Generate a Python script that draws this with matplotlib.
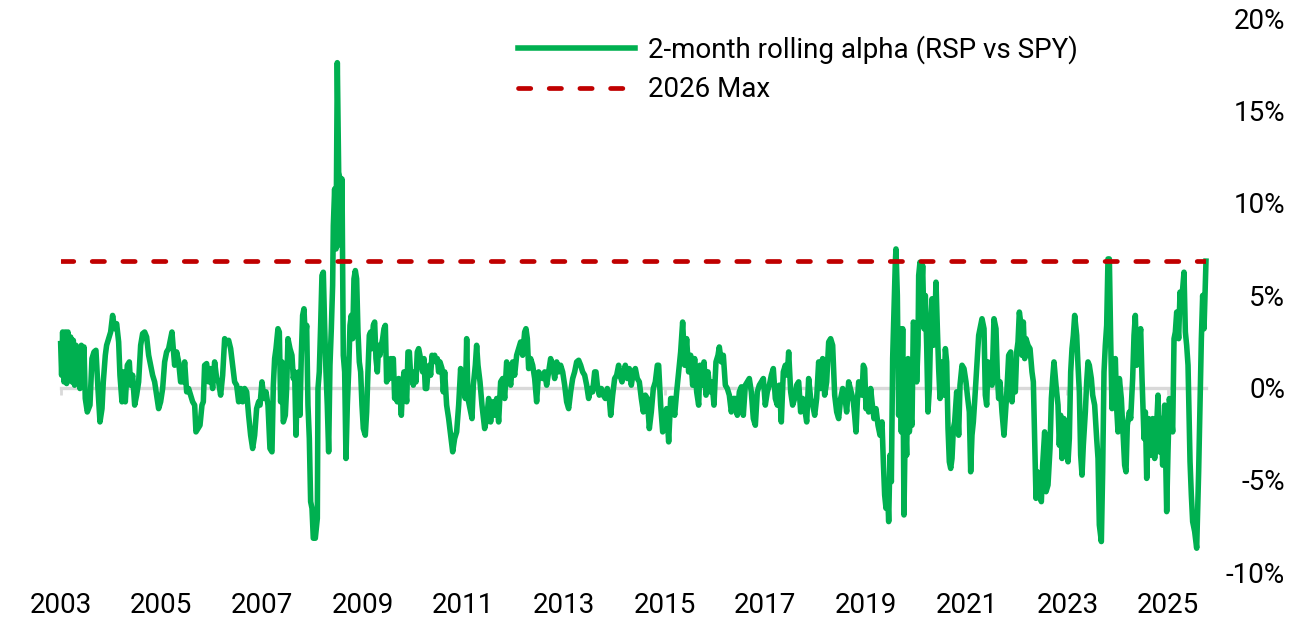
import matplotlib.pyplot as plt
from matplotlib.ticker import FuncFormatter

plt.rcParams['font.family'] = ['Roboto', 'DejaVu Sans']
plt.rcParams['axes.unicode_minus'] = False

# dates as decimal years (axis positions), alpha in %
dates = [
    2003.000, 2003.019, 2003.039, 2003.066, 2003.092, 2003.119, 2003.145, 2003.172, 2003.198, 2003.225,
    2003.251, 2003.277, 2003.304, 2003.330, 2003.357, 2003.383, 2003.410, 2003.436, 2003.463, 2003.489,
    2003.529, 2003.582, 2003.622, 2003.662, 2003.701, 2003.741, 2003.781, 2003.821, 2003.847, 2003.887,
    2003.913, 2003.953, 2003.993, 2004.032, 2004.072, 2004.112, 2004.152, 2004.178, 2004.218, 2004.244,
    2004.284, 2004.324, 2004.364, 2004.390, 2004.430, 2004.470, 2004.509, 2004.549, 2004.589, 2004.628,
    2004.668, 2004.708, 2004.748, 2004.787, 2004.827, 2004.867, 2004.907, 2004.946, 2004.986, 2005.026,
    2005.066, 2005.105, 2005.145, 2005.185, 2005.211, 2005.238, 2005.264, 2005.304, 2005.344, 2005.383,
    2005.423, 2005.463, 2005.503, 2005.542, 2005.582, 2005.622, 2005.662, 2005.688, 2005.728, 2005.768,
    2005.807, 2005.834, 2005.860, 2005.900, 2005.940, 2005.979, 2006.019, 2006.059, 2006.099, 2006.138,
    2006.178, 2006.218, 2006.258, 2006.297, 2006.337, 2006.377, 2006.417, 2006.456, 2006.496, 2006.536,
    2006.576, 2006.615, 2006.655, 2006.695, 2006.734, 2006.774, 2006.814, 2006.854, 2006.893, 2006.933,
    2006.960, 2006.999, 2007.039, 2007.079, 2007.119, 2007.158, 2007.198, 2007.225, 2007.251, 2007.278,
    2007.317, 2007.344, 2007.370, 2007.397, 2007.423, 2007.463, 2007.489, 2007.516, 2007.556, 2007.595,
    2007.622, 2007.648, 2007.675, 2007.701, 2007.728, 2007.754, 2007.781, 2007.807, 2007.834, 2007.860,
    2007.887, 2007.913, 2007.940, 2007.966, 2007.993, 2008.019, 2008.059, 2008.099, 2008.112, 2008.138,
    2008.165, 2008.191, 2008.218, 2008.244, 2008.271, 2008.297, 2008.324, 2008.350, 2008.377, 2008.403,
    2008.417, 2008.443, 2008.470, 2008.496, 2008.523, 2008.549, 2008.576, 2008.589, 2008.615, 2008.642,
    2008.668, 2008.695, 2008.721, 2008.748, 2008.774, 2008.801, 2008.827, 2008.854, 2008.880, 2008.907,
    2008.933, 2008.960, 2008.986, 2009.013, 2009.052, 2009.079, 2009.105, 2009.132, 2009.158, 2009.185,
    2009.211, 2009.238, 2009.264, 2009.291, 2009.317, 2009.344, 2009.370, 2009.397, 2009.423, 2009.450,
    2009.476, 2009.503, 2009.529, 2009.556, 2009.582, 2009.609, 2009.635, 2009.662, 2009.688, 2009.715,
    2009.741, 2009.768, 2009.794, 2009.821, 2009.847, 2009.874, 2009.900, 2009.927, 2009.953, 2009.980,
    2010.006, 2010.032, 2010.059, 2010.085, 2010.112, 2010.138, 2010.165, 2010.191, 2010.218, 2010.244,
    2010.271, 2010.297, 2010.324, 2010.350, 2010.377, 2010.403, 2010.430, 2010.456, 2010.483, 2010.509,
    2010.536,
    2010.576, 2010.602, 2010.629, 2010.668, 2010.708, 2010.748, 2010.788, 2010.827, 2010.867, 2010.907,
    2010.946, 2010.973, 2010.999, 2011.039, 2011.066, 2011.092, 2011.132, 2011.172, 2011.198, 2011.238,
    2011.264, 2011.291, 2011.331, 2011.370, 2011.423, 2011.463, 2011.503, 2011.542, 2011.582, 2011.622,
    2011.662, 2011.701, 2011.741, 2011.781, 2011.821, 2011.860, 2011.900, 2011.940, 2011.980, 2012.019,
    2012.059, 2012.099, 2012.138, 2012.178, 2012.218, 2012.244, 2012.271, 2012.297, 2012.337, 2012.377,
    2012.417, 2012.456, 2012.496, 2012.536, 2012.576, 2012.615, 2012.655, 2012.695, 2012.734, 2012.774,
    2012.814, 2012.854, 2012.893, 2012.933, 2012.973, 2013.013, 2013.052, 2013.092, 2013.132, 2013.172,
    2013.211, 2013.251, 2013.291, 2013.331, 2013.370, 2013.410, 2013.450, 2013.489, 2013.529, 2013.569,
    2013.609, 2013.635, 2013.662, 2013.701, 2013.741, 2013.781, 2013.821, 2013.860, 2013.900, 2013.927,
    2013.966, 2014.006, 2014.046, 2014.085, 2014.112, 2014.152, 2014.191, 2014.218, 2014.258, 2014.297,
    2014.337, 2014.377, 2014.417, 2014.456, 2014.496, 2014.536, 2014.576, 2014.615, 2014.655, 2014.695,
    2014.734, 2014.774, 2014.814, 2014.854, 2014.880, 2014.920, 2014.960, 2014.999, 2015.039, 2015.079,
    2015.119, 2015.158, 2015.198, 2015.238, 2015.277, 2015.317, 2015.357, 2015.397, 2015.436, 2015.476,
    2015.516, 2015.556, 2015.595, 2015.635, 2015.675, 2015.701, 2015.741, 2015.781, 2015.821, 2015.860,
    2015.900, 2015.940, 2015.979, 2016.019, 2016.059, 2016.085, 2016.125, 2016.165, 2016.205, 2016.244,
    2016.284, 2016.324, 2016.364, 2016.403, 2016.443, 2016.483, 2016.523, 2016.562, 2016.602, 2016.642,
    2016.681, 2016.721, 2016.761, 2016.801, 2016.840, 2016.880, 2016.920, 2016.960, 2016.999, 2017.039,
    2017.079, 2017.119, 2017.158, 2017.198, 2017.238, 2017.277, 2017.317, 2017.357, 2017.397, 2017.436,
    2017.463, 2017.503, 2017.542, 2017.582, 2017.622, 2017.662, 2017.701, 2017.741, 2017.781, 2017.821,
    2017.860, 2017.900, 2017.940, 2017.980, 2018.019, 2018.059, 2018.099, 2018.138, 2018.178, 2018.218,
    2018.258, 2018.297, 2018.337, 2018.377, 2018.417, 2018.456, 2018.496, 2018.536, 2018.576, 2018.615,
    2018.655,
    2018.721, 2018.748, 2018.774, 2018.801, 2018.827, 2018.854, 2018.893, 2018.920, 2018.946, 2018.973,
    2018.999, 2019.026, 2019.052, 2019.092, 2019.119, 2019.158, 2019.198, 2019.238, 2019.278, 2019.317,
    2019.344, 2019.370, 2019.397, 2019.423, 2019.450, 2019.476, 2019.503, 2019.529, 2019.556, 2019.582,
    2019.595, 2019.622, 2019.648, 2019.675, 2019.701, 2019.728, 2019.754, 2019.781, 2019.807, 2019.834,
    2019.860, 2019.887, 2019.913, 2019.940, 2019.980, 2020.006, 2020.033, 2020.046, 2020.072, 2020.099,
    2020.125, 2020.152, 2020.178, 2020.205, 2020.231, 2020.258, 2020.284, 2020.311, 2020.337, 2020.364,
    2020.390, 2020.417, 2020.443, 2020.470, 2020.496, 2020.523, 2020.549, 2020.576, 2020.602, 2020.629,
    2020.655, 2020.682, 2020.708, 2020.735, 2020.761, 2020.801, 2020.840, 2020.867, 2020.907, 2020.946,
    2020.986, 2021.013, 2021.052, 2021.079, 2021.105, 2021.132, 2021.158, 2021.198, 2021.238, 2021.277,
    2021.304, 2021.344, 2021.370, 2021.397, 2021.423, 2021.463, 2021.503, 2021.542, 2021.582, 2021.609,
    2021.635,
    2021.662, 2021.701, 2021.741, 2021.768, 2021.794, 2021.834, 2021.874, 2021.900, 2021.927, 2021.966,
    2021.993, 2022.019, 2022.046, 2022.072, 2022.099, 2022.125, 2022.152, 2022.178, 2022.218, 2022.258,
    2022.297, 2022.324, 2022.350, 2022.377, 2022.403, 2022.443, 2022.483, 2022.509, 2022.549, 2022.576,
    2022.615, 2022.655, 2022.682, 2022.708, 2022.734, 2022.774, 2022.814, 2022.840, 2022.867, 2022.893,
    2022.933, 2022.973, 2023.013, 2023.039, 2023.066, 2023.092, 2023.119, 2023.145, 2023.185, 2023.211,
    2023.238, 2023.264, 2023.291, 2023.317, 2023.357, 2023.384, 2023.410, 2023.436, 2023.476, 2023.503,
    2023.542, 2023.582, 2023.609, 2023.635, 2023.675, 2023.701, 2023.728, 2023.754, 2023.781, 2023.807,
    2023.834, 2023.860, 2023.887, 2023.913, 2023.953, 2023.980, 2024.006, 2024.033, 2024.072, 2024.099,
    2024.138, 2024.165, 2024.191, 2024.231, 2024.258, 2024.297, 2024.324, 2024.350, 2024.377, 2024.417,
    2024.456, 2024.483, 2024.523, 2024.549, 2024.576, 2024.615, 2024.655, 2024.695, 2024.734, 2024.774,
    2024.801, 2024.827, 2024.867, 2024.893, 2024.933, 2024.973, 2024.999, 2025.026, 2025.052, 2025.092,
    2025.119, 2025.145, 2025.172, 2025.211, 2025.238, 2025.264, 2025.291, 2025.317, 2025.344, 2025.370,
    2025.397, 2025.437, 2025.463, 2025.489, 2025.529, 2025.569, 2025.608, 2025.635, 2025.662, 2025.688,
    2025.715, 2025.754,
]

alpha = [
    2.38, 0.67, 3.01, 0.31, 3.01, 0.22, 3.01, 0.49, 2.74, 0.31,
    2.56, 0.13, 2.29, 0.40, 2.11, -0.05, 2.29, 0.13, 2.20, -0.59,
    -1.32, -0.95, 1.57, 1.93, 2.02, -0.05, -1.86, -1.14, 0.31, 1.75,
    2.29, 2.65, 3.01, 3.91, 3.19, 3.46, 2.47, 0.67, -0.77, 0.85,
    -0.77, 1.21, 1.39, 0.13, 0.67, -0.95, -0.41, 0.31, 2.29, 2.92,
    3.01, 2.74, 1.75, 1.21, 0.67, 0.31, -0.41, -1.14, -0.77, -0.05,
    1.39, 1.93, 2.11, 2.65, 3.01, 2.11, 1.21, 1.93, 1.39, 0.31,
    0.31, 1.39, -0.23, -0.05, -0.41, -0.77, -0.95, -2.40, -2.22, -2.04,
    -0.95, -0.77, 1.21, 1.30, 0.31, 1.03, -0.05, 1.39, 0.49, 0.31,
    -0.41, 0.67, 2.65, 2.47, 2.56, 2.11, 1.21, 0.31, 0.13, -0.77,
    -0.05, -0.77, -0.05, -0.23, -1.50, -2.58, -3.30, -2.58, -1.14, -0.77,
    -0.95, 0.31, -0.59, -0.23, -0.95, -3.30, -3.48, 0.13, 1.57, 2.11,
    3.19, 3.01, -0.77, 1.39, -1.86, -1.50, -0.05, 2.65, 2.11, 1.75,
    0.49, 0.85, -2.58, 0.13, 0.85, -1.50, 1.75, 3.91, 4.27, 2.65,
    3.37, -0.95, -2.76, -6.18, -6.54, -8.16, -8.16, -7.08, -0.05, 0.85,
    3.37, 6.07, 6.25, 3.37, 0.85, -0.95, -3.48, 1.21, 3.19, 5.53,
    8.77, 10.76, 7.51, 17.60, 11.66, 11.30, 7.69, 11.30, 1.75, 0.85,
    -3.84, -0.95, 0.85, 3.37, 3.91, 2.65, 5.89, 6.34, 5.89, 3.01,
    1.39, 0.85, -0.95, -2.22, -2.58, -1.32, 0.85, 2.83, 3.01, 2.11,
    3.37, 3.55, 1.57, 0.85, 2.29, 1.75, 2.29, 2.65, 3.19, 3.37,
    0.31, 1.39, 0.49, 1.57, 1.21, 1.57, -0.59, 0.13, -0.77, 0.49,
    -0.23, -1.50, 0.13, 0.85, -0.05, -0.77, 1.93, 1.93, 0.67, 0.67,
    0.13, 0.85, 0.31, 1.93, 2.11, 1.75, 1.21, 0.85, 1.57, -0.05,
    -0.05, 0.85, 1.21, 0.67, 1.75, 1.57, 1.75, 1.39, 1.57, 0.85,
    1.39,
    1.03, -0.23, 0.85, -0.95, -1.68, -2.58, -3.48, -2.76, -2.40, -0.95,
    1.03, -0.23, 0.67, -0.59, 2.65, -0.59, -1.14, -1.68, 0.13, 1.21,
    2.29, 1.21, 0.31, -0.95, -2.22, -1.68, -0.59, -1.86, -0.77, -1.50,
    -0.59, -1.86, 0.31, 0.49, -0.59, 1.39, 0.85, 0.13, 1.39, 0.67,
    1.75, 2.11, 2.47, 1.75, 3.01, 3.19, 2.65, 1.03, 1.57, 1.21,
    0.49, -0.77, 0.85, 0.67, 0.49, 0.85, 0.13, 0.85, 1.57, 1.21,
    0.49, 1.39, 0.85, 1.21, 0.85, 0.13, -0.77, -1.14, -0.23, 0.49,
    0.85, 1.39, 1.48, 1.21, 0.85, 0.67, 0.13, -0.59, -0.05, -0.23,
    0.85, 0.85, 0.13, -0.41, -0.05, -0.41, -0.59, -0.05, -0.59, -1.50,
    -0.41, 0.49, 0.67, 1.21, 0.67, 0.31, 0.85, 1.21, 0.49, 1.03,
    0.13, 0.85, 1.03, 0.49, 0.31, -0.59, -1.32, -0.41, -0.59, -2.22,
    -1.32, -0.05, 0.31, 1.21, 1.21, -0.95, -2.40, -2.04, -1.14, -2.94,
    -0.59, -0.59, -1.50, -0.23, 0.85, 1.93, 3.55, 1.21, 2.65, 0.85,
    1.75, 0.13, 1.57, -0.23, -0.95, 1.21, 0.13, 1.39, -0.41, 0.85,
    -0.23, 0.31, -0.95, 1.39, 1.75, 2.20, 1.39, 1.75, 0.13, -0.05,
    -0.41, -1.32, -0.59, -0.59, -1.50, -0.23, 0.04, -1.50, 0.13, 0.31,
    0.49, -0.23, -1.68, -2.04, -0.23, 0.13, 0.31, 0.49, -0.95, -0.23,
    0.13, 0.67, 1.03, -0.59, -0.95, 0.13, -1.86, 0.85, 1.21, 0.67,
    1.93, -0.23, -0.95, -0.59, 0.13, 0.31, -1.32, -0.59, -1.14, -1.86,
    0.49, -0.59, -0.95, -1.50, -0.59, 1.39, -0.05, 1.57, -0.41, 0.31,
    2.47, 2.65, 2.29, -0.41, -1.32, -1.68, -0.59, -0.05, -0.41, -1.32,
    0.31,
    -0.41, -0.77, -1.50, -2.40, -0.77, 0.31, 0.13, -0.41, 1.21, 1.03,
    -1.14, -0.41, -1.32, -0.05, -0.77, -1.68, -1.14, -2.04, -2.58, -1.86,
    -4.02, -5.82, -6.54, -5.28, -7.26, -3.66, -5.10, 1.57, 4.27, 6.79,
    7.51, 4.99, -1.50, 3.19, -2.40, 3.19, -6.90, -1.68, -3.66, 1.57,
    -2.40, -1.50, -2.04, 3.55, 3.19, 0.31, 2.29, 6.07, 6.79, 4.99,
    6.61, 3.19, 4.99, 2.29, -1.32, -0.05, 3.19, 4.81, 2.29, 3.19,
    5.71, 3.19, 1.03, -0.59, 1.39, 0.13, -0.41, 2.11, 1.39, -2.22,
    -4.02, -4.38, -3.84, -2.22, -1.86, -0.23, -2.58, 0.13, 1.21, 1.03,
    0.31, -0.41, -1.32, -4.56, -2.58, -1.86, -0.77, 1.03, 2.83, 3.37,
    3.73, 3.19, -0.41, -0.95, 1.39, 0.49, 0.13, 3.73, 3.19, 0.67,
    -0.59,
    0.31, -1.32, -2.58, -1.50, -0.41, 1.75, 1.93, -0.77, 0.49, -0.23,
    1.93, 2.47, 4.09, 3.55, 1.75, 3.55, 1.57, 2.65, 2.29, 2.11,
    0.85, 0.31, -2.76, -6.00, -4.56, -5.64, -6.18, -4.20, -2.40, -5.64,
    -5.28, -3.30, -0.59, 0.49, 1.39, 0.13, -0.95, -3.12, -1.50, -3.84,
    -1.68, -2.22, -4.02, -2.76, 0.85, 2.11, 2.83, 3.91, 2.83, 1.21,
    -0.23, -3.66, -4.74, -3.12, -1.32, 0.31, 1.39, 1.21, 0.49, -0.41,
    -0.95, -2.76, -3.84, -7.44, -8.34, -4.56, 0.85, 2.29, 3.37, 6.97,
    6.97, 2.65, -1.14, 0.85, 1.57, -1.14, -2.40, 0.49, -0.59, -2.04,
    -4.20, -4.56, -2.04, -1.32, -1.68, 0.49, 2.83, 3.91, 1.21, 2.29,
    3.19, 0.49, -2.76, -1.32, -4.92, -1.68, -3.66, -1.68, -3.84, -2.04,
    -0.41, -3.48, -1.68, -4.20, -0.95, -6.72, -3.48, -0.59, -1.14, -2.40,
    2.65, 3.01, 4.09, 2.65, 5.17, 4.45, 5.35, 6.25, 3.01, 2.29,
    1.21, -4.02, -5.82, -7.26, -7.80, -8.70, -4.56, -0.95, 2.65, 4.99,
    3.19, 6.85,
]

max_2026 = 6.85
year_ticks = list(range(2003, 2026, 2))
pct_ticks = [-10, -5, 0, 5, 10, 15, 20]

green = '#00B050'
red = '#C00000'
grey = '#D9D9D9'

fig = plt.figure(figsize=(12.99, 6.34), dpi=100)
ax = fig.add_axes([0.0467, 0.0975, 0.8817, 0.8735])

ax.plot(dates, alpha, color=green, lw=4.0, solid_joinstyle='round',
        label='2-month rolling alpha (RSP vs SPY)', zorder=3, clip_on=False)
ax.plot([dates[0], dates[-1]], [max_2026, max_2026], color=red, lw=3.4,
        linestyle=(0, (2.6, 3.9)), dash_capstyle='round', label='2026 Max', zorder=4)

ax.set_xlim(dates[0], dates[-1])
ax.set_ylim(-10, 20)

for s in ['top', 'left', 'right']:
    ax.spines[s].set_visible(False)
ax.spines['bottom'].set_position(('data', 0))
ax.spines['bottom'].set_color(grey)
ax.spines['bottom'].set_linewidth(2.4)
ax.spines['bottom'].set_zorder(1)

# ticks on the zero line, labels at the bottom
ax.set_xticks(year_ticks)
ax.tick_params(axis='x', length=5, width=2, color=grey, labelbottom=False)
sec = ax.secondary_xaxis('bottom')
sec.set_xticks(year_ticks, [str(y) for y in year_ticks])
sec.tick_params(length=0, pad=14, labelsize=20)
sec.spines['bottom'].set_visible(False)

ax.set_yticks(pct_ticks)
ax.yaxis.set_major_formatter(FuncFormatter(lambda v, _: f'{v:.0f}%'))
ax.yaxis.tick_right()
ax.tick_params(axis='y', length=0, pad=57, labelsize=20)
plt.setp(ax.yaxis.get_majorticklabels(), ha='right')

ax.legend(loc='upper left', bbox_to_anchor=(518 / 1299, 1 - 35 / 634),
          bbox_transform=fig.transFigure, frameon=False, fontsize=20,
          handlelength=4.2, handletextpad=0.47, labelspacing=0.45,
          borderpad=0, borderaxespad=0)

fig.savefig('out.png', dpi=100)
